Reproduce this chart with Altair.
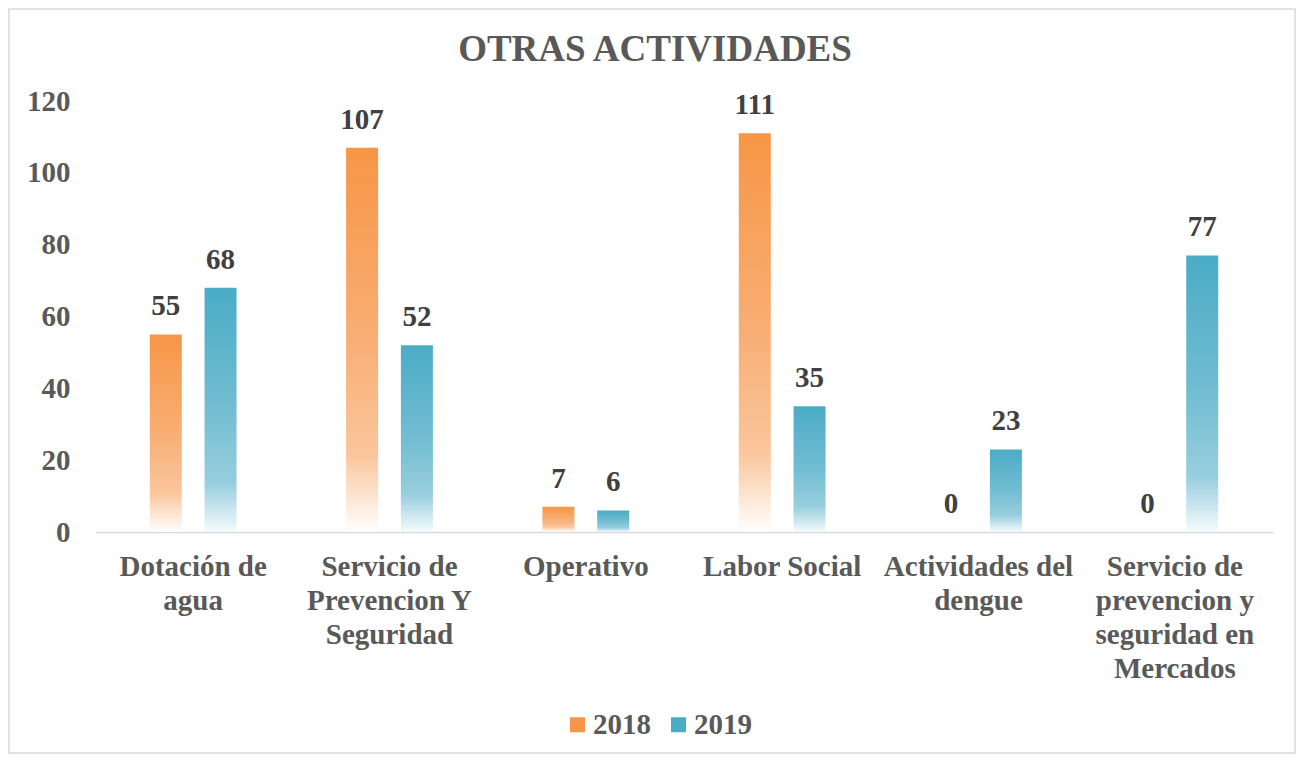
import altair as alt
import pandas as pd

title_text = "OTRAS ACTIVIDADES"
categories = [
    "Dotación de\nagua",
    "Servicio de\nPrevencion Y\nSeguridad",
    "Operativo",
    "Labor Social",
    "Actividades del\ndengue",
    "Servicio de\nprevencion y\nseguridad en\nMercados",
]
years = ["2018", "2019"]
values_2018 = [55, 107, 7, 111, 0, 0]
values_2019 = [68, 52, 6, 35, 23, 77]
y_ticks = [0, 20, 40, 60, 80, 100, 120]

rows = []
for c, a, b in zip(categories, values_2018, values_2019):
    rows.append({"categoria": c, "anio": "2018", "valor": a})
    rows.append({"categoria": c, "anio": "2019", "valor": b})
df = pd.DataFrame(rows)

FONT = "Liberation Serif"
FS = 29
ORANGE = "#F79646"
BLUE = "#4BACC6"

grad_orange = alt.Gradient(
    gradient="linear", x1=0, y1=0, x2=0, y2=1,
    stops=[
        alt.GradientStop(color=ORANGE, offset=0),
        alt.GradientStop(color="#F8AE74", offset=0.5),
        alt.GradientStop(color="#FAC69C", offset=0.8),
        alt.GradientStop(color="#FFFFFF", offset=1),
    ],
)
grad_blue = alt.Gradient(
    gradient="linear", x1=0, y1=0, x2=0, y2=1,
    stops=[
        alt.GradientStop(color=BLUE, offset=0),
        alt.GradientStop(color="#72BDD2", offset=0.5),
        alt.GradientStop(color="#98CEDE", offset=0.8),
        alt.GradientStop(color="#F5FBFD", offset=1),
    ],
)

x_enc = alt.X(
    "categoria:N",
    sort=categories,
    scale=alt.Scale(paddingInner=0, paddingOuter=0),
    axis=alt.Axis(
        title=None, labelAngle=0, labelExpr="split(datum.label, '\\n')",
        labelFont=FONT, labelFontSize=FS, labelFontWeight="bold",
        labelColor="#595959", labelLineHeight=34, labelPadding=20,
        ticks=False, domainColor="#D9D9D9", domainWidth=1.5, grid=False,
        labelLimit=300,
    ),
)
xoff_enc = alt.XOffset(
    "anio:N", sort=years,
    scale=alt.Scale(domain=years, paddingInner=0.4157, paddingOuter=1),
)
y_enc = alt.Y(
    "valor:Q",
    scale=alt.Scale(domain=[0, 120], nice=False),
    axis=alt.Axis(
        title=None, values=y_ticks, labelFont=FONT, labelFontSize=FS,
        labelFontWeight="bold", labelColor="#595959", labelPadding=25,
        ticks=False, domain=False, gridColor="#D9D9D9", gridWidth=1.2,
    ),
)

base = alt.Chart(df)

legend_layer = base.mark_bar().encode(
    x=x_enc,
    xOffset=xoff_enc,
    y=alt.datum(0),
    color=alt.Color(
        "anio:N",
        scale=alt.Scale(domain=years, range=[ORANGE, BLUE]),
        legend=alt.Legend(
            title=None, orient="none", direction="horizontal",
            legendX=468, legendY=609, symbolType="square", symbolSize=225,
            symbolStrokeWidth=0, labelFont=FONT, labelFontSize=FS,
            labelFontWeight="bold", labelColor="#595959", labelOffset=1,
            columnPadding=13,
        ),
    ),
)

bars_2018 = base.transform_filter(alt.datum.anio == "2018").mark_bar(
    color=grad_orange
).encode(x=x_enc, xOffset=xoff_enc, y=y_enc)

bars_2019 = base.transform_filter(alt.datum.anio == "2019").mark_bar(
    color=grad_blue
).encode(x=x_enc, xOffset=xoff_enc, y=y_enc)

labels = base.mark_text(
    baseline="alphabetic", dy=-19, font=FONT, fontSize=FS,
    fontWeight="bold", color="#404040",
).encode(x=x_enc, xOffset=xoff_enc, y=y_enc, text=alt.Text("valor:Q"))

frame = alt.Chart(alt.Data(values=[{"f": 1}])).mark_rect(
    fillOpacity=0, stroke="#D9D9D9", strokeWidth=1.5
).encode(
    x=alt.value(-86), x2=alt.value(1200), y=alt.value(-92), y2=alt.value(652)
)

title = alt.Chart(alt.Data(values=[{"t": title_text}])).mark_text(
    font=FONT, fontSize=37, fontWeight="bold", color="#595959",
    baseline="alphabetic", align="center",
).encode(x=alt.value(560), y=alt.value(-40), text="t:N")

chart = alt.layer(frame, legend_layer, bars_2018, bars_2019, labels, title).properties(
    width=1178,
    height=431,
    autosize=alt.AutoSizeParams(type="none"),
    padding={"left": 87, "top": 93, "right": 23, "bottom": 222},
).configure_view(stroke=None)

chart.save("out.html", embed_options={"renderer": "svg", "actions": False})
